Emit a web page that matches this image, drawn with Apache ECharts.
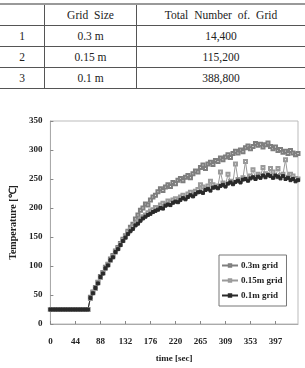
<!DOCTYPE html>
<html>
<head>
<meta charset="utf-8">
<script src="https://cdn.jsdelivr.net/npm/echarts@6/dist/echarts.min.js"></script>
<style>
  body { margin: 0; background: #fff; }
  #chart { position: absolute; left: 0; top: 0; width: 305px; height: 368px; }
  #grids {
    position: absolute; left: 0; top: 3px; width: 305px;
    border-collapse: collapse; font-family: "Liberation Serif", serif;
    font-size: 11.5px; color: #222; background: #fff;
  }
  #grids td, #grids th { text-align: center; font-weight: normal; padding: 0; height: 20px; border-bottom: 1px solid #555; }
  #grids tr:first-child th { border-top: 2px solid #999; height: 20px; word-spacing: 3px; }
  #grids .c1 { width: 44px; border-right: 1px solid #555; }
  #grids .c2 { width: 91px; border-right: 1px solid #555; }
</style>
</head>
<body>
<div id="chart"></div>
<table id="grids">
  <tr><th class="c1"></th><th class="c2">Grid Size</th><th>Total Number of. Grid</th></tr>
  <tr><td class="c1">1</td><td class="c2">0.3 m</td><td>14,400</td></tr>
  <tr><td class="c1">2</td><td class="c2">0.15 m</td><td>115,200</td></tr>
  <tr><td class="c1">3</td><td class="c2">0.1 m</td><td>388,800</td></tr>
</table>
<script>
const times = ['0','4','9','13','18','22','26','31','35','40','44','49','53','57','62','66','71','75','79','84',
  '88','93','97','101','106','110','115','119','123','128','132','137','141','146','150','154','159','163','168','172',
  '176','181','185','190','194','198','203','207','212','216','220','225','229','234','238','243','247','251','256','260',
  '265','269','273','278','282','287','291','295','300','304','309','313','318','322','326','331','335','340','344','348',
  '353','357','362','366','370','375','379','384','388','392','397','401','406','410','415','419','423','428','432','437'];

const grid03 = [25,25,25,25,25,25,25,25,25,25,25,25,25,25,25,25,46,55,63,72,
  82,89,98,103,112,118,126,132,139,146,152,160,167,172,181,188,196,200,207,205,
  214,219,222,228,233,230,236,240,237,244,242,248,251,247,253,256,252,259,264,262,
  270,274,268,276,279,275,282,280,286,283,288,292,287,294,298,295,300,297,304,307,
  302,306,311,308,310,305,309,312,306,302,305,299,301,296,298,294,299,295,292,294];

const grid015 = [25,25,25,25,25,25,25,25,25,25,25,25,25,25,25,25,44,54,61,71,
  80,88,96,102,110,116,124,130,137,144,150,158,163,168,172,177,181,185,188,192,
  195,197,201,199,205,208,206,212,210,214,216,213,219,222,218,224,227,223,229,232,
  240,236,233,238,246,240,236,238,262,243,240,258,246,244,276,249,247,252,280,250,
  255,266,252,258,255,270,259,257,268,262,254,268,256,258,283,253,258,255,251,250];

const grid01 = [25,25,25,25,25,25,25,25,25,25,25,25,25,25,25,25,45,53,62,70,
  81,87,96,101,110,115,124,129,136,143,149,155,160,164,170,173,178,182,185,188,
  190,193,195,197,200,199,204,206,205,209,211,210,214,217,215,219,222,220,224,227,
  228,226,231,233,230,235,236,234,238,240,237,242,244,241,245,247,244,249,250,247,
  251,253,250,254,252,256,253,257,255,252,256,254,251,255,250,252,248,250,246,248];

const tickLabels = ['0','50','100','150','200','250','300','350'];

const font = 'Liberation Serif';
const chart = echarts.init(document.getElementById('chart'));

function mkSeries(name, data, color, symbol) {
  return {
    name: name, type: 'line', data: data,
    symbol: symbol, symbolSize: 3, showSymbol: true, showAllSymbol: true,
    lineStyle: { color: color, width: 1 },
    itemStyle: { color: color, borderColor: color, borderWidth: 1 },
    animation: false
  };
}

chart.setOption({
  animation: false,
  grid: { left: 41, top: 121, right: 7, bottom: 40, show: true, borderColor: '#bbb', borderWidth: 1 },
  legend: {
    left: 219, top: 255, orient: 'vertical', itemGap: 6, itemWidth: 16, itemHeight: 3,
    padding: [6, 4, 6, 2], borderColor: '#777', borderWidth: 1,
    textStyle: { fontFamily: font, fontSize: 9, fontWeight: 'bold', color: '#222', padding: [0, 0, 0, -2] },
    data: ['0.3m grid', '0.15m grid', '0.1m grid']
  },
  xAxis: {
    type: 'category', data: times, boundaryGap: false,
    axisLine: { lineStyle: { color: '#aaa' } },
    axisTick: { inside: true, length: 3, interval: 9, lineStyle: { color: '#888' } },
    axisLabel: { interval: 9, margin: 13, fontFamily: font, fontSize: 9, fontWeight: 'bold', color: '#222' },
    name: 'time [sec]', nameLocation: 'middle', nameGap: 30,
    nameTextStyle: { fontFamily: font, fontSize: 9, fontWeight: 'bold', color: '#222' }
  },
  yAxis: {
    type: 'value', min: 0, max: 350, interval: 50,
    axisLine: { show: true, lineStyle: { color: '#aaa' } },
    axisTick: { show: true, inside: true, length: 3, lineStyle: { color: '#888' } },
    splitLine: { show: false },
    axisLabel: { margin: 8, fontFamily: font, fontSize: 9, fontWeight: 'bold', color: '#222',
      formatter: (v) => tickLabels[Math.round(v / 50)] },
    name: 'Temperature [℃]', nameLocation: 'middle', nameGap: 25,
    nameTextStyle: { fontFamily: font, fontSize: 10, fontWeight: 'bold', color: '#222' }
  },
  series: [
    mkSeries('0.3m grid', grid03, '#7e7e7e', 'emptyRect'),
    mkSeries('0.15m grid', grid015, '#9a9a9a', 'emptyRect'),
    mkSeries('0.1m grid', grid01, '#2a2a2a', 'rect')
  ]
});
</script>
</body>
</html>
